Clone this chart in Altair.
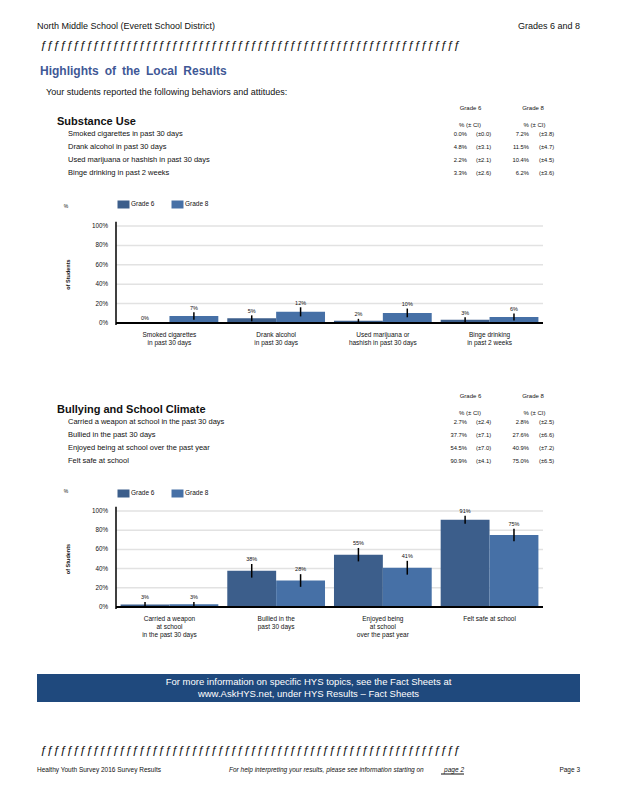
import altair as alt
import pandas as pd

FONT = "Liberation Sans"
INK = "#111111"
C6 = "#3C5E8B"
C8 = "#4670A6"
BANNER = "#1F497D"
TITLE_BLUE = "#3F5896"

# ---------------- data ----------------
school = "North Middle School (Everett School District)"
grades_text = "Grades 6 and 8"
page_title = "Highlights\u2002of\u2002the\u2002Local\u2002Results"
intro = "Your students reported the following behaviors and attitudes:"
grades = ["Grade 6", "Grade 8"]
ci_header = "% (± CI)"

substance_title = "Substance Use"
substance_items = [
    "Smoked cigarettes in past 30 days",
    "Drank alcohol in past 30 days",
    "Used marijuana or hashish in past 30 days",
    "Binge drinking in past 2 weeks",
]
substance_ticks = [
    "Smoked cigarettes\nin past 30 days",
    "Drank alcohol\nin past 30 days",
    "Used marijuana or\nhashish in past 30 days",
    "Binge drinking\nin past 2 weeks",
]
substance_g6 = [0.0, 4.8, 2.2, 3.3]
substance_g6_ci = [0.0, 3.1, 2.1, 2.6]
substance_g8 = [7.2, 11.5, 10.4, 6.2]
substance_g8_ci = [3.8, 4.7, 4.5, 3.6]

climate_title = "Bullying and School Climate"
climate_items = [
    "Carried a weapon at school in the past 30 days",
    "Bullied in the past 30 days",
    "Enjoyed being at school over the past year",
    "Felt safe at school",
]
climate_ticks = [
    "Carried a weapon\nat school\nin the past 30 days",
    "Bullied in the\npast 30 days",
    "Enjoyed being\nat school\nover the past year",
    "Felt safe at school",
]
climate_g6 = [2.7, 37.7, 54.5, 90.9]
climate_g6_ci = [2.4, 7.1, 7.0, 4.1]
climate_g8 = [2.8, 27.6, 40.9, 75.0]
climate_g8_ci = [2.5, 6.6, 7.2, 6.5]

y_ticks = [0, 20, 40, 60, 80, 100]
y_title = "of Students"
banner_lines = [
    "For more information on specific HYS topics, see the Fact Sheets at",
    "www.AskHYS.net, under HYS Results \u2013 Fact Sheets",
]
footer_left = "Healthy Youth Survey 2016 Survey Results"
footer_mid = "For help interpreting your results, please see information starting on"
footer_link = "page 2"
footer_right = "Page 3"
flourish = "\u0192" * 64

ONE = pd.DataFrame({"k": [0]})


def label(text, x, y, size, align="left", weight="normal", color=INK,
          style="normal", angle=0, baseline="middle"):
    return alt.Chart(ONE).mark_text(
        text=text, fontSize=size, font=FONT, align=align, baseline=baseline,
        fontWeight=weight, color=color, fontStyle=style, angle=angle,
    ).encode(x=alt.value(x), y=alt.value(y))


def table(title, items, g6, g6ci, g8, g8ci, dy):
    n = len(items)
    df = pd.DataFrame({"row": list(range(n)), "item": items, "g6": g6,
                       "g6ci": g6ci, "g8": g8, "g8ci": g8ci})
    ys = alt.Scale(type="point", domain=list(range(n)),
                   range=[126 + dy, 164.5 + dy], padding=0)
    y = alt.Y("row:O", scale=ys, axis=None)
    base = alt.Chart(df).transform_calculate(
        p6="format(datum.g6, '.1f') + '%'",
        c6="'(\u00b1' + format(datum.g6ci, '.1f') + ')'",
        p8="format(datum.g8, '.1f') + '%'",
        c8="'(\u00b1' + format(datum.g8ci, '.1f') + ')'",
    )

    def col(field, x, align, size):
        return base.mark_text(align=align, baseline="middle", fontSize=size,
                              font=FONT, color=INK).encode(
            x=alt.value(x), y=y, text=f"{field}:N")

    return alt.layer(
        label(grades[0], 462.5, 100 + dy, 6, align="center"),
        label(grades[1], 525, 100 + dy, 6, align="center"),
        label(title, 49, 114 + dy, 11, weight="bold"),
        label(ci_header, 462, 116.5 + dy, 6, align="center"),
        label(ci_header, 526.5, 116.5 + dy, 6, align="center"),
        col("item", 60, "left", 7.5),
        col("p6", 459, "right", 5.8),
        col("c6", 468, "left", 5.8),
        col("p8", 521, "right", 5.8),
        col("c8", 531, "left", 5.8),
    )


def panel(ticks, g6, g6ci, g8, g8ci, y0, y100, legend_y):
    n = len(ticks)
    df = pd.DataFrame({
        "cat": ticks + ticks,
        "grade": [grades[0]] * n + [grades[1]] * n,
        "value": g6 + g8,
        "ci": g6ci + g8ci,
    })
    xs = alt.Scale(domain=ticks, range=[108, 535], paddingInner=0.084,
                   paddingOuter=0.043)
    ys = alt.Scale(domain=[0, 100], range=[y0, y100])
    x = alt.X("cat:N", scale=xs, axis=None)
    xo = alt.XOffset("grade:N", scale=alt.Scale(domain=grades, paddingInner=0,
                                                 paddingOuter=0))
    tick_df = pd.DataFrame({"t": y_ticks})

    grid = alt.Chart(tick_df).transform_filter("datum.t > 0").mark_rule(
        color="#E2E2E2", strokeWidth=1.5).encode(
        y=alt.Y("t:Q", scale=ys, axis=None), x=alt.value(108), x2=alt.value(535))
    bars = alt.Chart(df).mark_bar().encode(
        x=x, xOffset=xo,
        y=alt.Y("value:Q", scale=ys, axis=None),
        color=alt.Color(
            "grade:N", scale=alt.Scale(domain=grades, range=[C6, C8]),
            legend=alt.Legend(
                orient="none", legendX=109.5, legendY=legend_y,
                direction="horizontal", title=None,
                symbolType="M-1,-0.667H1V0.667H-1Z", symbolSize=144,
                symbolStrokeWidth=0, symbolOpacity=1,
                labelFontSize=6.5, labelFont=FONT, labelColor=INK,
                labelOffset=1.5, columnPadding=17)),
    )
    errs = alt.Chart(df).transform_filter("datum.ci > 0").transform_calculate(
        lo="max(datum.value - datum.ci, 0)", hi="datum.value + datum.ci"
    ).mark_rule(color="black", strokeWidth=1.5).encode(
        x=x, xOffset=xo, y=alt.Y("lo:Q", scale=ys, axis=None), y2="hi:Q")
    vals = alt.Chart(df).transform_calculate(
        hi="datum.value + datum.ci", lab="round(datum.value) + '%'"
    ).mark_text(baseline="middle", dy=-4.7, fontSize=5.5, font=FONT,
                color=INK).encode(
        x=x, xOffset=xo, y=alt.Y("hi:Q", scale=ys, axis=None), text="lab:N")
    base_line = alt.Chart(ONE).mark_rule(color="black", strokeWidth=2).encode(
        y=alt.YDatum(0, scale=ys, axis=None), x=alt.value(108), x2=alt.value(535))
    axis_line = alt.Chart(ONE).mark_rule(color="black", strokeWidth=1.5).encode(
        x=alt.value(108), y=alt.YDatum(-2, scale=ys, axis=None),
        y2=alt.Y2Datum(104.5))
    tick_labels = alt.Chart(tick_df).transform_calculate(
        lab="datum.t + '%'").mark_text(
        align="right", baseline="middle", fontSize=6.3, font=FONT,
        color=INK).encode(
        y=alt.Y("t:Q", scale=ys, axis=None), x=alt.value(100), text="lab:N")
    xlabels = alt.Chart(pd.DataFrame({"cat": ticks})).mark_text(
        baseline="top", lineBreak="\n", lineHeight=8, fontSize=6.5, font=FONT,
        color=INK).encode(
        x=x, y=alt.YDatum(-9.5, scale=ys, axis=None), text="cat:N")
    ytitle = alt.Chart(ONE).mark_text(
        text=y_title, angle=270, fontSize=5.5, fontWeight="bold", font=FONT,
        color=INK, baseline="middle", align="center").encode(
        x=alt.value(59.5), y=alt.YDatum(50, scale=ys, axis=None))
    pct = alt.Chart(ONE).mark_text(
        text="%", fontSize=5, font=FONT, color=INK, baseline="middle").encode(
        x=alt.value(58), y=alt.YDatum(121, scale=ys, axis=None))
    return alt.layer(grid, bars, errs, base_line, axis_line, tick_labels, vals,
                     xlabels, ytitle, pct)


header = [
    label(school, 29, 18, 9),
    label(grades_text, 572, 18, 9, align="right"),
    label(flourish, 32, 37, 11.8, style="italic"),
    label(page_title, 32, 63, 12, weight="bold", color=TITLE_BLUE),
    label(intro, 38, 84, 9),
]

banner = alt.Chart(ONE).mark_rect(color=BANNER).encode(
    x=alt.value(29), x2=alt.value(572), y=alt.value(666), y2=alt.value(694))

footer = [
    banner,
    label(banner_lines[0], 300.5, 674, 9.5, align="center", color="white"),
    label(banner_lines[1], 300.5, 685.5, 9.5, align="center", color="white"),
    label(flourish, 32, 742, 11.8, style="italic"),
    label(footer_left, 29, 762, 6.5),
    label(footer_mid, 221, 762, 6.5, style="italic"),
    label(footer_link, 456, 762, 6.5, style="italic", align="right"),
    alt.Chart(ONE).mark_rule(color=INK, strokeWidth=1).encode(
        x=alt.value(433), x2=alt.value(456), y=alt.value(766)),
    label(footer_right, 572, 762, 6.5, align="right"),
]

chart = alt.layer(
    *header,
    table(substance_title, substance_items, substance_g6, substance_g6_ci,
          substance_g8, substance_g8_ci, 0),
    panel(substance_ticks, substance_g6, substance_g6_ci, substance_g8,
          substance_g8_ci, 315, 218, 190),
    table(climate_title, climate_items, climate_g6, climate_g6_ci,
          climate_g8, climate_g8_ci, 288),
    panel(climate_ticks, climate_g6, climate_g6_ci, climate_g8,
          climate_g8_ci, 599, 503, 479),
    *footer,
).resolve_scale(
    x="independent", y="independent", color="independent",
    xOffset="independent",
).properties(
    width=602, height=784, padding=0, autosize="none", background="white",
).configure_view(stroke=None)

chart.save("out.html", embed_options={"renderer": "svg", "actions": False})
